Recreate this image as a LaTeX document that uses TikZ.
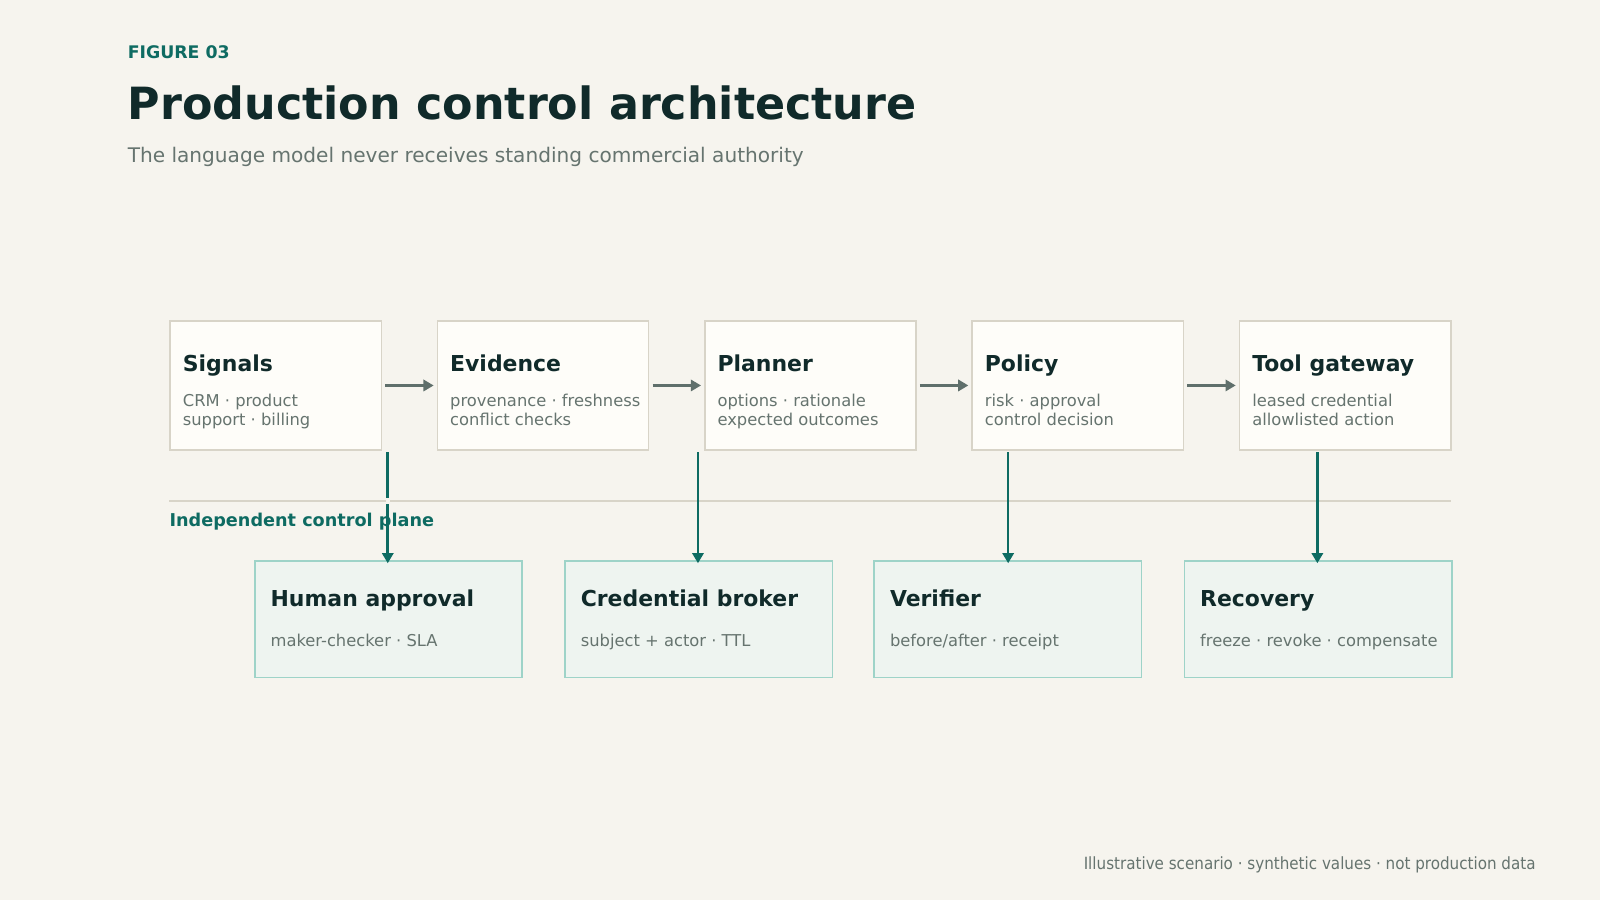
\documentclass[tikz,border=0pt]{standalone}
\usepackage{fontspec}
\setmainfont{DejaVu Sans}
\newfontfamily\condf{DejaVu Sans Condensed}
\usetikzlibrary{arrows.meta}
\definecolor{bg}{HTML}{F6F4EE}
\definecolor{ink}{HTML}{102A2A}
\definecolor{teal}{HTML}{0E6B62}
\definecolor{mute}{HTML}{66746F}
\definecolor{tfill}{HTML}{FEFDF9}
\definecolor{tline}{HTML}{D8D4C8}
\definecolor{bfill}{HTML}{EEF4F0}
\definecolor{bline}{HTML}{9ED3C8}
\definecolor{agray}{HTML}{5F6F6B}
\tikzset{
 top/.style={draw=tline,fill=tfill,line width=1.5pt,minimum width=207pt,minimum height=126pt,anchor=north west,inner sep=0},
 bot/.style={draw=bline,fill=bfill,line width=1.5pt,minimum width=262pt,minimum height=114pt,anchor=north west,inner sep=0},
 ttl/.style={anchor=base west,text=ink,font=\fontsize{21.5}{24}\selectfont\bfseries,inner sep=0},
 btl/.style={anchor=base west,text=ink,font=\fontsize{21.5}{24}\selectfont\bfseries,inner sep=0},
 sub/.style={anchor=base west,text=mute,font=\fontsize{16}{18}\selectfont,inner sep=0,align=left},
 harr/.style={draw=agray,line width=2.5pt,-{Triangle[length=10pt,width=11pt]}},
 varr/.style={draw=teal,line width=2.5pt,-{Triangle[length=10pt,width=11pt]}},
}
\begin{document}
\begin{tikzpicture}[x=1pt,y=-1pt]
\fill[bg] (0,0) rectangle (1568,882);
\useasboundingbox (0,0) rectangle (1568,882);
\node[anchor=base west,inner sep=0,text=teal,font=\fontsize{17}{20}\selectfont\bfseries] (fig) at (125,57) {FIGURE 03};
\node[anchor=base west,inner sep=0,text=ink,font=\fontsize{43.5}{50}\selectfont\bfseries] (title) at (125,117) {Production control architecture};
\node[anchor=base west,inner sep=0,text=mute,font=\fontsize{19.7}{23}\selectfont] (subt) at (125,159) {The language model never receives standing commercial authority};
% top row
\foreach \n/\x/\t/\a/\b in {s/166/Signals/CRM · product/support · billing,
  e/428/Evidence/provenance · freshness/conflict checks,
  p/690/Planner/options · rationale/expected outcomes,
  o/952/Policy/risk · approval/control decision,
  g/1214/Tool gateway/leased credential/allowlisted action}{
  \node[top] (\n) at (\x,314) {};
  \node[ttl] (\n t) at (\x+13,364) {\t};
  \node[sub] (\n a) at (\x+13,398) {\a};
  \node[sub] (\n b) at (\x+13,417) {\b};
}
\foreach \u/\v in {s/e,e/p,p/o,o/g}{\draw[harr] ([xshift=3pt]\u.east) -- ([xshift=-3pt]\v.west);}
% separator
\coordinate (l1) at (166,491); \coordinate (l2) at (1422,491);
\draw[tline,line width=1.5pt] (l1) -- (l2);
\node[anchor=base west,inner sep=0,text=teal,font=\fontsize{17.3}{20}\selectfont\bfseries] (icp) at (166,516) {Independent control plane};
% bottom row
\foreach \n/\x/\t/\a in {h/249/Human approval/maker-checker · SLA,
  c/553/Credential broker/subject + actor · TTL,
  v/856/Verifier/{before/after · receipt},
  r/1160/Recovery/freeze · revoke · compensate}{
  \node[bot] (\n) at (\x,549) {};
  \node[btl] (\n t) at (\x+16,594) {\t};
  \node[sub] (\n a) at (\x+16,634) {\a};
}
\foreach \x/\b in {380/h,684/c,988/v,1291/r}{
  \coordinate (st\b) at (\x,443);
  \draw[varr] (st\b) -- ([yshift=-3pt]\b.north -| st\b);
}
\fill[bg] (378,488.5) rectangle (382,493.5);
\node[anchor=base east,inner sep=0,text=mute,font=\condf\fontsize{16.5}{19}\selectfont] (foot) at (1505,852) {Illustrative scenario · synthetic values · not production data};
\end{tikzpicture}
\end{document}
